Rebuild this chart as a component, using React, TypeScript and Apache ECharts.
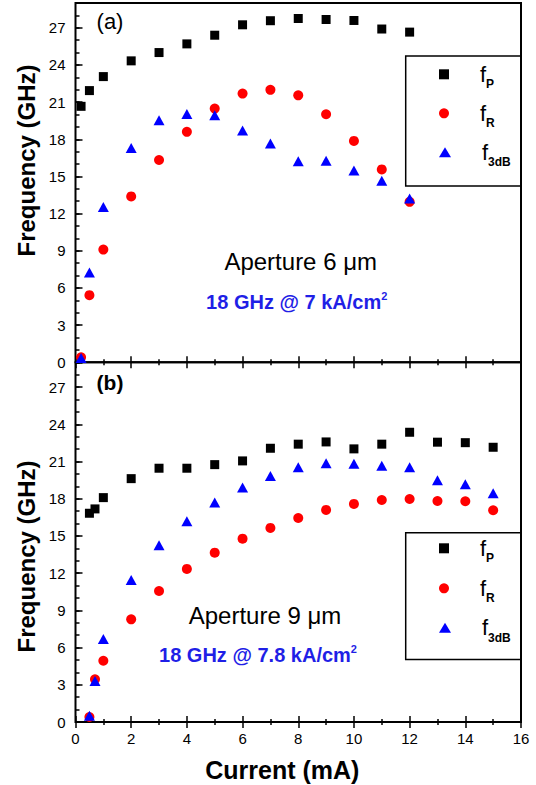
import React, { useEffect, useRef } from 'react';
import * as echarts from 'echarts';

const FONT = "'Liberation Sans', Arial, Helvetica, sans-serif";

// Series names and legend subscripts
const seriesNames = ['f_P', 'f_R', 'f_3dB'];
const legendSubs = ['P', 'R', '3dB'];
const seriesColors = ['#000000', '#ff0000', '#0000ff'];
const seriesSymbols = ['rect', 'circle', 'triangle'];

// Panel (a): aperture 6 µm
const currentA = [0.2, 0.5, 1, 2, 3, 4, 5, 6, 7, 8, 9, 10, 11, 12];
const fpA = [20.66, 21.93, 23.06, 24.33, 25.0, 25.7, 26.4, 27.24, 27.57, 27.75, 27.67, 27.59, 26.9, 26.65];
const frA = [0.4, 5.42, 9.1, 13.39, 16.33, 18.6, 20.48, 21.69, 21.99, 21.55, 20.02, 17.87, 15.57, 12.95];
const f3A = [0.35, 7.25, 12.53, 17.3, 19.53, 20.05, 19.94, 18.7, 17.65, 16.22, 16.27, 15.49, 14.66, 13.22];

// Panel (b): aperture 9 µm
const currentB = [0.5, 0.7, 1, 2, 3, 4, 5, 6, 7, 8, 9, 10, 11, 12, 13, 14, 15];
const fpB = [16.83, 17.18, 18.09, 19.62, 20.46, 20.46, 20.75, 21.05, 22.07, 22.4, 22.58, 22.02, 22.4, 23.36, 22.56, 22.52, 22.15];
const frB = [0.4, 3.45, 4.94, 8.28, 10.56, 12.34, 13.65, 14.78, 15.65, 16.45, 17.1, 17.58, 17.9, 17.98, 17.82, 17.8, 17.07];
const f3B = [0.5, 3.3, 6.69, 11.45, 14.25, 16.19, 17.69, 18.9, 19.84, 20.54, 20.86, 20.83, 20.65, 20.54, 19.5, 19.17, 18.44];

const panelTitles = ['(a)', '(b)'];
const apertureLabels = ['Aperture 6 μm', 'Aperture 9 μm'];
const densityLabels = ['18 GHz @ 7 kA/cm{s|2}', '18 GHz @ 7.8 kA/cm{s|2}'];
const yAxisTitle = 'Frequency (GHz)';
const xAxisTitle = 'Current (mA)';

const X_MIN = 0, X_MAX = 16, X_INT = 2;
const Y_MIN = 0, Y_MAX = 29, Y_INT = 3;

const GRIDS = [
  { left: 75.5, top: 3, width: 445.5, height: 359.3 },
  { left: 75.5, top: 362.3, width: 445.5, height: 359.7 },
];

const LEGEND_ROWS = [
  [79.3, 118.3, 157.3],
  [553.3, 593.3, 632.7],
];
const LEGEND_BOX = [
  { x: 405.7, y: 56, w: 115.3, h: 130 },
  { x: 405.7, y: 532.7, w: 115.3, h: 126.8 },
];

export default function App() {
  const ref = useRef<HTMLDivElement>(null);

  useEffect(() => {
    if (!ref.current) return;
    const chart = echarts.init(ref.current, null, { renderer: 'svg' });

    const tickStyle = { color: '#000', width: 1.5 };
    const xAxes: any[] = [];
    const yAxes: any[] = [];
    [0, 1].forEach((g) => {
      ['bottom', 'top'].forEach((pos) => {
        xAxes.push({
          type: 'value', gridIndex: g, position: pos,
          min: X_MIN, max: X_MAX, interval: X_INT,
          axisLine: { show: false },
          axisTick: { show: true, inside: true, length: 6, lineStyle: tickStyle },
          minorTick: { show: true, splitNumber: 2, length: 3, lineStyle: tickStyle },
          axisLabel: {
            show: g === 1 && pos === 'bottom',
            fontSize: 15, color: '#000', fontFamily: FONT, margin: 9,
          },
          splitLine: { show: false },
          minorSplitLine: { show: false },
        });
      });
      yAxes.push({
        type: 'value', gridIndex: g, position: 'left',
        min: Y_MIN, max: Y_MAX, interval: Y_INT,
        axisLine: { show: false },
        axisTick: { show: true, inside: true, length: 7, lineStyle: tickStyle },
        axisLabel: {
          show: true, showMaxLabel: false,
          fontSize: 15, color: '#000', fontFamily: FONT, margin: 10,
        },
        splitLine: { show: false },
      });
      yAxes.push({
        type: 'value', gridIndex: g, position: 'left',
        min: Y_MIN, max: Y_MAX, interval: 1,
        axisLine: { show: false },
        axisTick: { show: true, inside: true, length: 4, lineStyle: tickStyle },
        axisLabel: { show: false },
        splitLine: { show: false },
      });
    });

    const panelData = [
      { x: currentA, ys: [fpA, frA, f3A] },
      { x: currentB, ys: [fpB, frB, f3B] },
    ];
    const series: any[] = [];
    panelData.forEach((p, g) => {
      p.ys.forEach((ys, k) => {
        series.push({
          type: 'scatter',
          name: seriesNames[k],
          xAxisIndex: 2 * g,
          yAxisIndex: 2 * g,
          symbol: seriesSymbols[k],
          symbolSize: k === 2 ? [11, 10] : k === 1 ? 10 : 9,
          itemStyle: { color: seriesColors[k], opacity: 1 },
          data: ys.map((v, i) => [p.x[i], v]),
          z: 2 + k,
        });
      });
    });

    const legendRich = {
      f: { fontSize: 22, fontFamily: FONT, color: '#000', lineHeight: 32, padding: [0, 0, 0, 26] },
      s: { fontSize: 12, fontFamily: FONT, fontWeight: 'bold', color: '#000', verticalAlign: 'bottom', lineHeight: 10 },
    };
    const legends: any[] = [];
    [0, 1].forEach((g) => {
      seriesNames.forEach((name, k) => {
        legends.push({
          show: true,
          left: 439,
          top: LEGEND_ROWS[g][k] - 16,
          padding: 0,
          selectedMode: false,
          itemWidth: k === 2 ? 12 : 10,
          itemHeight: k === 2 ? 10 : 10,
          data: [{ name, icon: seriesSymbols[k] }],
          formatter: () => `{f|f}{s|${legendSubs[k]}}`,
          textStyle: { rich: legendRich },
        });
      });
    });

    const graphics: any[] = [];
    LEGEND_BOX.forEach((b) => {
      graphics.push({
        type: 'rect', shape: { x: b.x, y: b.y, width: b.w, height: b.h },
        style: { fill: 'none', stroke: '#000', lineWidth: 1.5 }, z: 1,
      });
    });
    const txt = (x: number, y: number, text: string, fontSize: number, fontWeight: string, fill = '#000', extra: any = {}) => ({
      type: 'text', x, y, z: 10, ...extra,
      style: {
        text, fontSize, fontWeight, fill, fontFamily: FONT,
        align: 'center', verticalAlign: 'middle',
        ...(extra.styleExtra || {}),
      },
    });
    graphics.push(txt(110, 21, panelTitles[0], 22, 'normal'));
    graphics.push(txt(110, 382, panelTitles[1], 21, 'bold'));
    graphics.push(txt(300.7, 261, apertureLabels[0], 24, 'normal'));
    graphics.push(txt(265, 615, apertureLabels[1], 24, 'normal'));
    const supRich = {
      s: { fontSize: 11, fontWeight: 'bold', fill: '#1f1fe6', fontFamily: FONT, verticalAlign: 'top', lineHeight: 12 },
    };
    graphics.push(txt(296.7, 302, densityLabels[0], 20, 'bold', '#1f1fe6', { styleExtra: { rich: supRich, lineHeight: 24 } }));
    graphics.push(txt(258, 655, densityLabels[1], 20, 'bold', '#1f1fe6', { styleExtra: { rich: supRich, lineHeight: 24 } }));
    graphics.push(txt(282.3, 770, xAxisTitle, 25, 'bold'));
    graphics.push(txt(26, 160.5, yAxisTitle, 24, 'bold', '#000', { rotation: Math.PI / 2 }));
    graphics.push(txt(26, 556.5, yAxisTitle, 24, 'bold', '#000', { rotation: Math.PI / 2 }));

    chart.setOption({
      animation: false,
      backgroundColor: '#ffffff',
      grid: GRIDS.map((gr) => ({
        ...gr, show: true, borderColor: '#000', borderWidth: 2, backgroundColor: 'transparent',
        containLabel: false,
      })),
      xAxis: xAxes,
      yAxis: yAxes,
      legend: legends,
      series,
      graphic: graphics,
    });

    return () => chart.dispose();
  }, []);

  return (
    <div
      ref={ref}
      style={{ position: 'absolute', left: 0, top: 0, width: 536, height: 785 }}
    />
  );
}
